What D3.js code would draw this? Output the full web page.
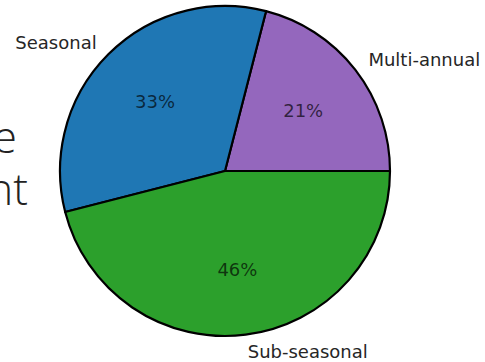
<!DOCTYPE html>
<html>
<head>
<meta charset="utf-8">
<script src="https://cdn.jsdelivr.net/npm/d3@7"></script>
<style>
  html, body { margin: 0; padding: 0; background: #fff; }
  svg { display: block; }
</style>
</head>
<body>
<svg id="chart" width="485" height="362"></svg>
<script>
const categories = ["Multi-annual", "Seasonal", "Sub-seasonal"];
const values = [21, 33, 46];
const colors = ["#9467bd", "#1f77b4", "#2ca02c"];
const sideText = ["e", "nt"];

const svg = d3.select("#chart");
const cx = 225, cy = 171, R = 165;

// cropped slide text at left (partly outside the frame, as in the reference)
const sideRight = [17, 28];
svg.selectAll("text.side")
  .data(sideText)
  .join("text")
  .attr("class", "side")
  .attr("x", (d, i) => sideRight[i])
  .attr("y", (d, i) => 153 + i * 52)
  .attr("text-anchor", "end")
  .attr("font-family", "'Open Sans', Lato, sans-serif")
  .attr("font-weight", 300)
  .attr("font-size", 44)
  .attr("fill", "#222")
  .text(d => d);

const data = categories.map((c, i) => ({ name: c, value: values[i], color: colors[i] }));

// matplotlib-style: start at east, counter-clockwise
const pie = d3.pie().sort(null).value(d => d.value)
  .startAngle(Math.PI / 2).endAngle(Math.PI / 2 - 2 * Math.PI);
const arcs = pie(data);
const arc = d3.arc().innerRadius(0).outerRadius(R);

const g = svg.append("g").attr("transform", `translate(${cx},${cy})`);

g.selectAll("path")
  .data(arcs)
  .join("path")
  .attr("d", arc)
  .attr("fill", d => d.data.color)
  .attr("stroke", "#000")
  .attr("stroke-width", 2.2)
  .attr("stroke-linejoin", "round");

const total = d3.sum(values);
const pos = (d, f) => {
  const a = (d.startAngle + d.endAngle) / 2;
  return [f * R * Math.sin(a), -f * R * Math.cos(a)];
};

g.selectAll("text.pct")
  .data(arcs)
  .join("text")
  .attr("class", "pct")
  .attr("x", d => pos(d, 0.6)[0])
  .attr("y", d => pos(d, 0.6)[1])
  .attr("text-anchor", "middle")
  .attr("dominant-baseline", "central")
  .attr("font-family", "'DejaVu Sans', sans-serif")
  .attr("font-size", 18)
  .attr("fill", "#000")
  .attr("fill-opacity", 0.68)
  .text(d => Math.round(d.data.value / total * 100) + "%");

g.selectAll("text.lbl")
  .data(arcs)
  .join("text")
  .attr("class", "lbl")
  .attr("x", d => pos(d, 1.1)[0])
  .attr("y", d => pos(d, 1.1)[1])
  .attr("text-anchor", d => pos(d, 1.1)[0] < 0 ? "end" : "start")
  .attr("dominant-baseline", "central")
  .attr("font-family", "'DejaVu Sans', sans-serif")
  .attr("font-size", 18)
  .attr("fill", "#262626")
  .text(d => d.data.name);
</script>
</body>
</html>
